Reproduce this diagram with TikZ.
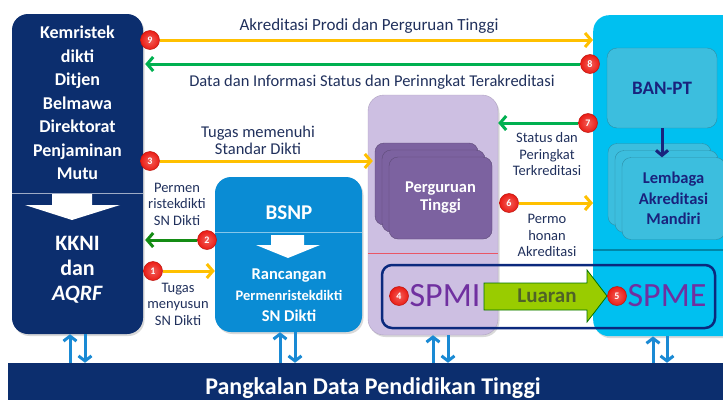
\documentclass[tikz,border=0pt]{standalone}
\usepackage{fontspec}
\setmainfont{Carlito}
\usetikzlibrary{arrows.meta,shadows}
\definecolor{navy}{RGB}{12,46,110}
\definecolor{bsnpblue}{RGB}{10,140,212}
\definecolor{lavender}{RGB}{205,191,226}
\definecolor{ptpurple}{RGB}{124,98,160}
\definecolor{skyblue}{RGB}{0,192,240}
\definecolor{banteal}{RGB}{60,190,222}
\definecolor{textnavy}{RGB}{25,35,125}
\definecolor{labelblue}{RGB}{32,48,92}
\definecolor{arrowyellow}{RGB}{255,192,0}
\definecolor{arrowgreen}{RGB}{0,176,80}
\definecolor{darkgreen}{RGB}{20,140,20}
\definecolor{ballred}{RGB}{235,28,20}
\definecolor{spmpurple}{RGB}{112,48,160}
\definecolor{limegreen}{RGB}{153,204,0}
\definecolor{olivetext}{RGB}{79,98,40}
\definecolor{linkblue}{RGB}{26,138,212}

\begin{document}
\begin{tikzpicture}[x=1pt,y=-1pt,
  bigbox/.style={rounded corners=16pt,inner sep=0pt,
    drop shadow={opacity=0.3,shadow xshift=1.5pt,shadow yshift=-2pt}},
  stackbox/.style={rounded corners=9pt,fill=#1,draw=#1!75!black,inner sep=0pt,
    minimum width=103pt,minimum height=82pt},
  numball/.style={circle,inner color=ballred!70!white,outer color=ballred,draw=ballred!80!black,
    line width=0.5pt,text=white,inner sep=0pt,minimum size=19pt,font=\bfseries\fontsize{10}{10}\selectfont},
  lbl/.style={text=labelblue,align=center,font=\fontsize{14.5}{16.5}\selectfont},
  yarrow/.style={arrowyellow,line width=3pt,-{Straight Barb[length=6pt,width=14pt]}},
  garrow/.style={arrowgreen,line width=3pt,-{Straight Barb[length=6pt,width=14pt]}},
  link/.style={linkblue,line width=3pt,-{Straight Barb[length=5pt,width=13pt]}}]
\useasboundingbox (0,0) rectangle (723,399);

\node[bigbox,fill=navy,minimum width=131pt,minimum height=320pt] (kem) at (77.5,174) {};
\node[bigbox,fill=bsnpblue,minimum width=147pt,minimum height=155pt] (bsnp) at (288.5,254.5) {};
\node[bigbox,fill=lavender,draw=lavender!85!black,minimum width=130pt,minimum height=240pt] (pt) at (433,215) {};
\node[bigbox,fill=skyblue,minimum width=160pt,minimum height=321pt,anchor=north west] (cyan) at (593,15) {};
\node[fill=navy,minimum width=728pt,minimum height=37pt,inner sep=0pt] (bar) at (372,381.5) {};

\draw[navy!40!white,line width=1pt] (12,193) -- (143,193);
\draw[bsnpblue!50!white,line width=1pt] (215,232) -- (362,232);
\draw[red!55!lavender,line width=0.8pt] (368,253) -- (498,253);
\draw[skyblue!70!black,line width=1.2pt] (593,250) -- (723,250);
\fill[white] (52,194) -- (92,194) -- (92,205) -- (120,205) -- (72,220) -- (25,205) -- (52,205) -- cycle;
\fill[white] (271,235) -- (304,235) -- (304,245) -- (320,245) -- (288,258) -- (256,245) -- (271,245) -- cycle;

\node[text=white,align=center,font=\bfseries\fontsize{18}{23.5}\selectfont] (kemtext) at (77.5,103) {Kemristek\\dikti\\Ditjen\\Belmawa\\Direktorat\\Penjaminan\\Mutu};
\node[text=white,align=center,font=\bfseries\fontsize{22}{25}\selectfont] (kkni) at (77.5,270) {KKNI\\dan\\\textit{AQRF}};
\node[text=white,font=\bfseries\fontsize{21}{21}\selectfont] (bsnptext) at (289,213) {BSNP};
\node[text=white,align=center,font=\bfseries\fontsize{16.5}{21}\selectfont] (rancangan) at (289,295) {Rancangan\\{\fontsize{14.5}{21}\selectfont Permenristekdikti}\\SN Dikti};

\foreach \i/\d in {1/0,2/7,3/14}
  \node[stackbox=ptpurple] (pt\i) at (426.5+\d,184+\d) {};
\node[text=white,align=center,font=\bfseries\fontsize{16.5}{18}\selectfont] (pttext) at (pt3) {Perguruan\\Tinggi};

\node[rounded corners=10pt,fill=banteal,draw=banteal!75!black,minimum width=110pt,minimum height=80pt,
  text=textnavy,font=\bfseries\fontsize{19}{19}\selectfont] (ban) at (662,88) {BAN-PT};
\foreach \i/\d in {1/0,2/7,3/14}
  \node[stackbox=banteal] (la\i) at (659.5+\d,184.5+\d) {};
\node[text=textnavy,align=center,font=\bfseries\fontsize{16.5}{20.5}\selectfont] (latext) at (la3) {Lembaga\\Akreditasi\\Mandiri};
\draw[textnavy,line width=3pt,-{Straight Barb[length=5pt,width=12pt]}] (ban.south) -- (ban.south |- la3.north);

\node[draw=navy!90!blue,line width=2.5pt,rounded corners=10pt,minimum width=333pt,minimum height=63pt] (spm) at (548.5,296.5) {};
\node[text=spmpurple,font=\fontsize{34}{34}\selectfont] (spmi) at (445,296) {SPMI};
\node[text=spmpurple,font=\fontsize{34}{34}\selectfont] (spme) at (667,296) {SPME};
\draw[fill=limegreen,draw=green!45!black,line width=0.8pt] (484,283) -- (587,283) -- (587,270) -- (607,296)
  -- (587,322) -- (587,310) -- (484,310) -- cycle;
\node[text=olivetext,font=\bfseries\fontsize{21}{21}\selectfont] (luaran) at (547,296) {Luaran};

\node[text=white,font=\bfseries\fontsize{24}{24}\selectfont,anchor=base] (bartext) at (373,394) {Pangkalan Data Pendidikan Tinggi};

\foreach \n/\x/\y in {1/153/271,2/207/240,3/150/161,4/399/296,5/617/296,6/509/203,7/588/123,8/590/64,9/150/40}
  \node[numball] (n\n) at (\x,\y) {\n};

\draw[yarrow] (n9.east) -- (n9 -| cyan.west);
\draw[garrow,shorten >=2pt] (n8.west) -- (n8 -| kem.east);
\draw[yarrow,shorten >=2pt] (n3.east) -- (n3 -| pt1.west);
\draw[garrow,darkgreen,shorten >=2pt] (n2.west) -- (n2 -| kem.east);
\draw[yarrow] (n1.east) -- (n1 -| bsnp.west);
\draw[garrow] (n7.west) -- (n7 -| pt.east);
\draw[yarrow] (n6.east) -- (n6 -| cyan.west);

\foreach \a/\b/\bx in {70/85/kem,280/295/bsnp,433/448/pt,653/667/cyan}{
  \draw[link] (\a,0 |- bar.north) -- (\a,0 |- \bx.south);
  \draw[link] (\b,0 |- \bx.south) -- (\b,0 |- bar.north);}

\node[lbl,font=\fontsize{17}{17}\selectfont,anchor=base] (lab9) at (369,30) {Akreditasi Prodi dan Perguruan Tinggi};
\node[lbl,font=\fontsize{16.5}{17}\selectfont,anchor=base] (lab8) at (372,86) {Data dan Informasi Status dan Perinngkat Terakreditasi};
\node[lbl,font=\fontsize{16.5}{17}\selectfont] (lab3) at (258,140) {Tugas memenuhi\\Standar Dikti};
\node[lbl] (lab2) at (177,204) {Permen\\ristekdikti\\SN Dikti};
\node[lbl] (lab1) at (178,304) {Tugas\\menyusun\\SN Dikti};
\node[lbl] (lab7) at (547,154.5) {Status dan\\Peringkat\\Terkreditasi};
\node[lbl] (lab6) at (547,235.5) {Permo\\honan\\Akreditasi};
\end{tikzpicture}
\end{document}
